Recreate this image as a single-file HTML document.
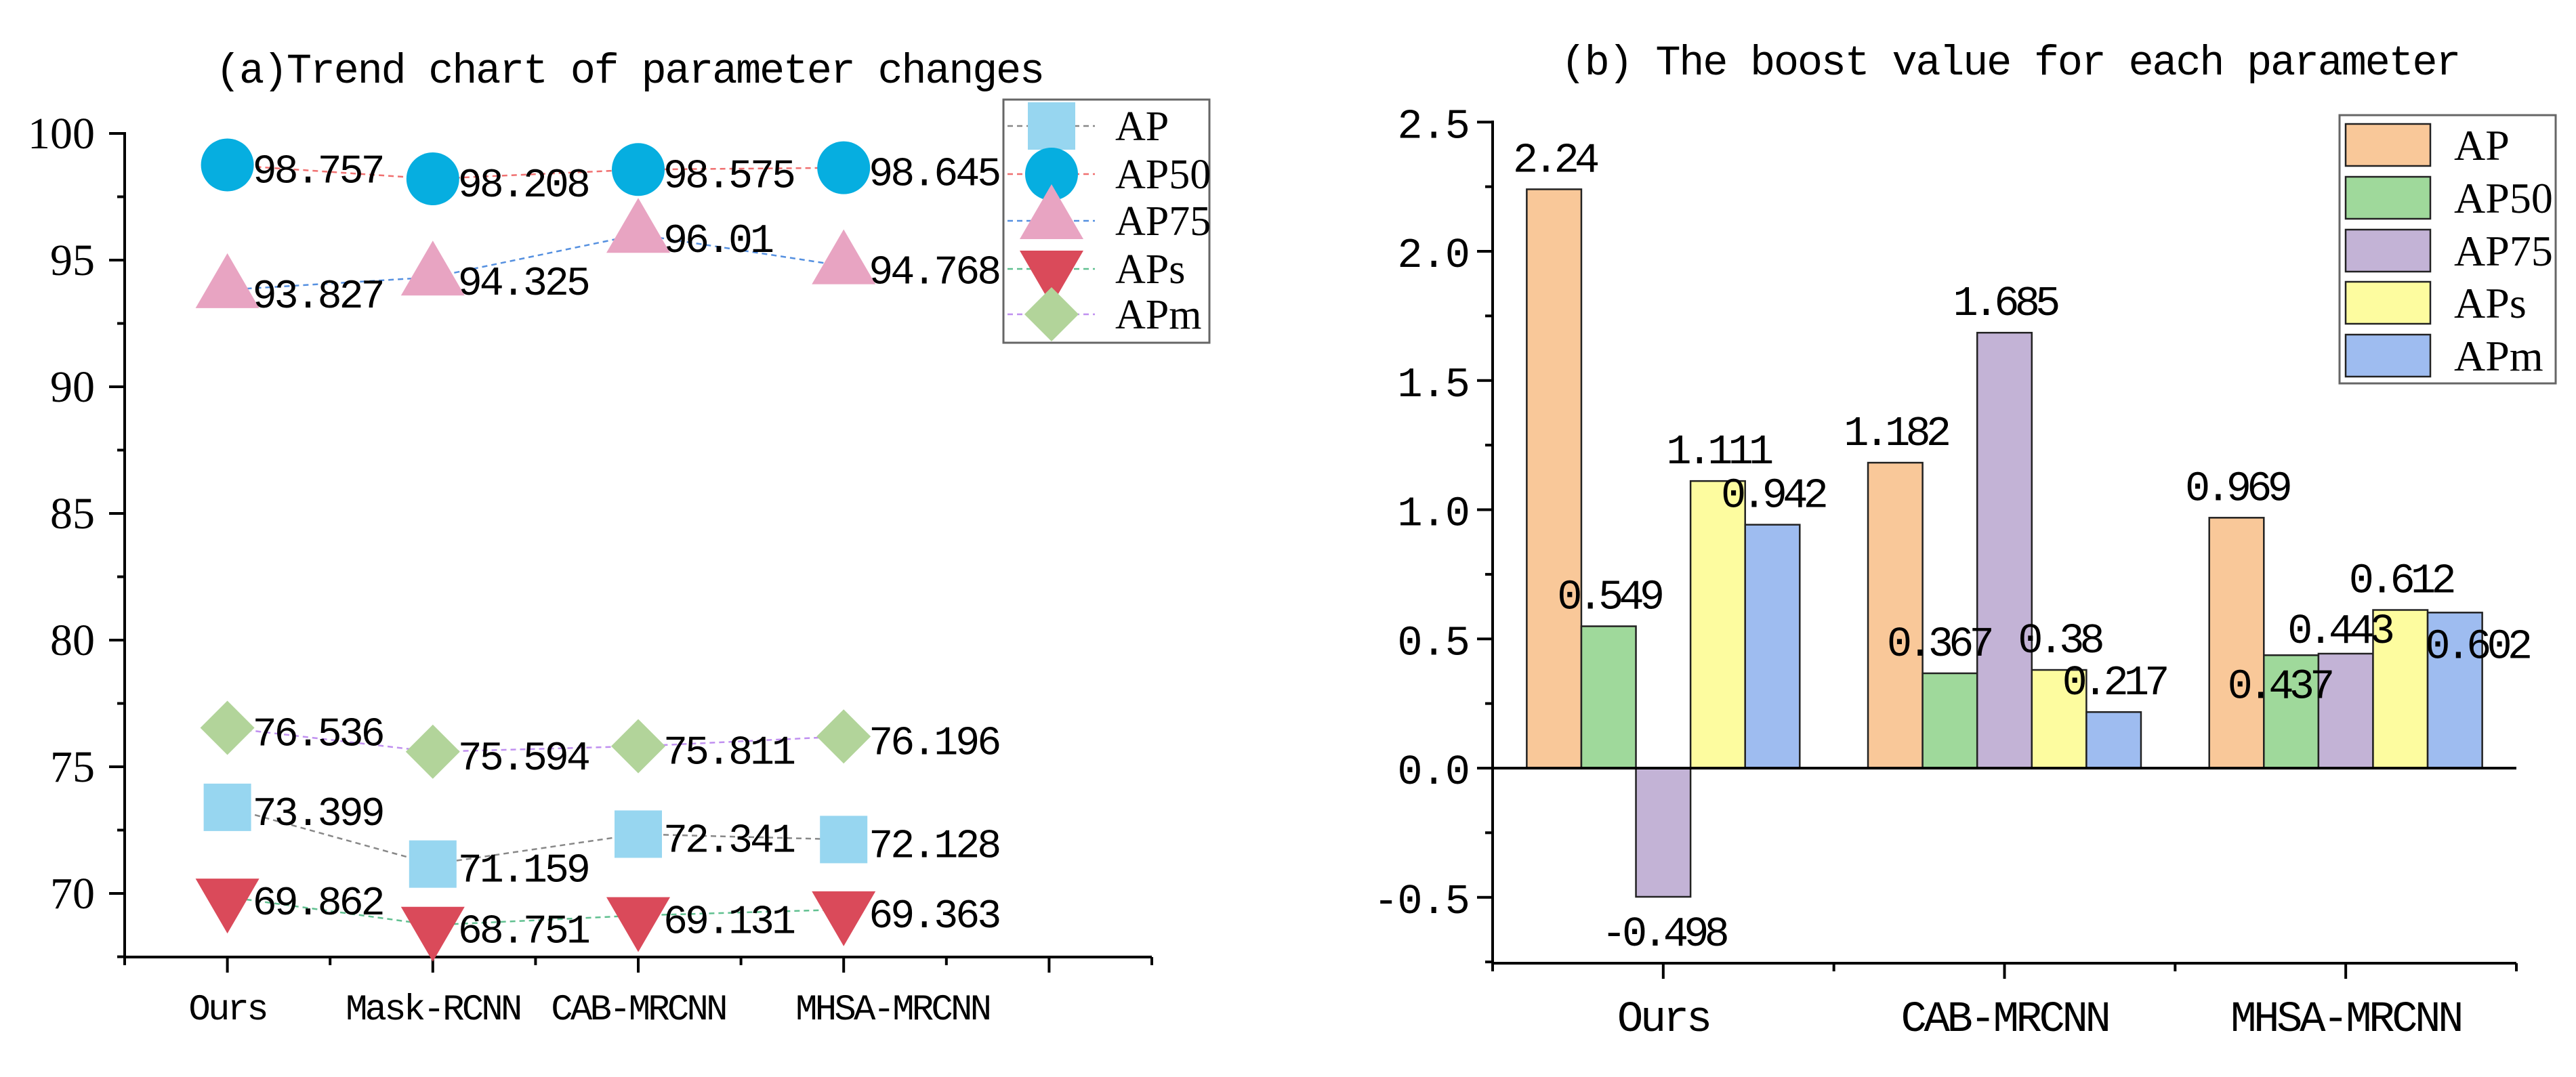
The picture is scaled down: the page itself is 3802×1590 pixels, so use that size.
<!DOCTYPE html>
<html><head><meta charset="utf-8"><style>
html,body{margin:0;padding:0;background:#fff;}
svg{display:block;}
.mono{font-family:"Liberation Mono","Noto Sans CJK SC",monospace;}
.serif{font-family:"Liberation Serif","Noto Serif CJK SC",serif;}
</style></head><body>
<svg id="chart" width="3802" height="1590" viewBox="0 0 3802 1590" xmlns="http://www.w3.org/2000/svg">
<rect width="3802" height="1590" fill="#fff"/>
<g id="left"></g>
<g id="right"></g>
</svg>
<script>
// ---- Left chart data ----
const lineCategories = ["Ours","Mask-RCNN","CAB-MRCNN","MHSA-MRCNN"];
const lineSeriesNames = ["AP","AP50","AP75","APs","APm"];
const apValues   = [73.399, 71.159, 72.341, 72.128];
const ap50Values = [98.757, 98.208, 98.575, 98.645];
const ap75Values = [93.827, 94.325, 96.01, 94.768];
const apsValues  = [69.862, 68.751, 69.131, 69.363];
const apmValues  = [76.536, 75.594, 75.811, 76.196];
const leftYTicks = [70,75,80,85,90,95,100];
// ---- Right chart data ----
const barCategories = ["Ours","CAB-MRCNN","MHSA-MRCNN"];
const barSeriesNames = ["AP","AP50","AP75","APs","APm"];
const barAP   = [2.24, 1.182, 0.969];
const barAP50 = [0.549, 0.367, 0.437];
const barAP75 = [-0.498, 1.685, 0.443];
const barAPs  = [1.111, 0.38, 0.612];
const barAPm  = [0.942, 0.217, 0.602];
const rightYTicks = ["-0.5","0.0","0.5","1.0","1.5","2.0","2.5"];

const NS="http://www.w3.org/2000/svg";
function mk(parent,tag,attrs,text){const e=document.createElementNS(NS,tag);for(const k in attrs)e.setAttribute(k,attrs[k]);if(text!==undefined)e.textContent=text;parent.appendChild(e);return e;}

// ================= LEFT =================
(function(){
const g=document.getElementById('left');
const x0=184, x1=1700, yMin=67.49;
const xs=i=>x0+(i+0.5)*(x1-x0)/5;
const ys=v=>197+(100-v)*37.4;
const yAxis=ys(yMin);
let t=mk(g,'text',{x:929,y:122,'font-size':62,'letter-spacing':-2.3,'text-anchor':'middle',class:'mono'},"(a)Trend chart of parameter changes");


let a=mk(g,'line',{x1:x0,y1:195,x2:x0,y2:yAxis+2,stroke:'#000','stroke-width':4});

a=mk(g,'line',{x1:x0-2,y1:yAxis,x2:x1,y2:yAxis,stroke:'#000','stroke-width':4});

for(let v=67.5;v<=100.01;v+=2.5){
  const major=Math.abs(v%5)<0.01;
  mk(g,'line',{x1:x0-(major?23:11),y1:ys(v),x2:x0,y2:ys(v),stroke:'#000','stroke-width':4});
}
leftYTicks.forEach(v=>{
  const e=mk(g,'text',{x:140,y:ys(v)+22,'font-size':66,'text-anchor':'end',class:'serif'},String(v));
  
});
for(let i=-0.5;i<=4.51;i+=0.5){
  const major=Math.abs(i-Math.round(i))<0.01;
  mk(g,'line',{x1:xs(i),y1:yAxis,x2:xs(i),y2:yAxis+(major?23:12),stroke:'#000','stroke-width':4});
}
lineCategories.forEach((c,i)=>{
  const e=mk(g,'text',{x:xs(i)+(i===3?72:0),y:1505,'font-size':54,'letter-spacing':-3.8,'text-anchor':'middle',class:'mono'},c);
  
});
const series=[apValues,ap50Values,ap75Values,apsValues,apmValues];
const lineCols=['#888','#f07070','#5590e0','#60c090','#c090f0'];
const fillCols=['#97d6f0','#06aee0','#e8a4c2','#da4a5a','#b2d49a'];
function marker(parent,type,cx,cy,col){
  if(type===0) return mk(parent,'rect',{x:cx-35,y:cy-35,width:70,height:70,fill:col});
  if(type===1) return mk(parent,'circle',{cx:cx,cy:cy,r:39,fill:col});
  if(type===2) return mk(parent,'polygon',{points:`${cx},${cy-54} ${cx-47},${cy+27} ${cx+47},${cy+27}`,fill:col});
  if(type===3) return mk(parent,'polygon',{points:`${cx},${cy+54} ${cx-47},${cy-27} ${cx+47},${cy-27}`,fill:col});
  return mk(parent,'polygon',{points:`${cx},${cy-40} ${cx+40},${cy} ${cx},${cy+40} ${cx-40},${cy}`,fill:col});
}
series.forEach((vals,si)=>{
  const sg=mk(g,'g',{});
  
  
  const pts=vals.map((v,i)=>xs(i)+','+ys(v)).join(' ');
  mk(sg,'polyline',{points:pts,fill:'none',stroke:lineCols[si],'stroke-width':2.5,'stroke-dasharray':'8,6'});
  vals.forEach((v,i)=>{
    const m=marker(sg,si,xs(i),ys(v),fillCols[si]);
    
    
  });
  vals.forEach((v,i)=>{
    const e=mk(sg,'text',{x:xs(i)+37,y:ys(v)+26,'font-size':60,'letter-spacing':-4,class:'mono'},String(v));
    
  });
});
const lg=mk(g,'g',{});

mk(lg,'rect',{x:1481,y:147,width:304,height:359,fill:'#fff',stroke:'#666','stroke-width':3});
const ly=[186,257,326,397,464];
lineSeriesNames.forEach((n,si)=>{
  mk(lg,'line',{x1:1487,y1:ly[si],x2:1616,y2:ly[si],stroke:lineCols[si],'stroke-width':2.5,'stroke-dasharray':'8,6'});
  marker(lg,si,1552,ly[si],fillCols[si]);
  const e=mk(lg,'text',{x:1646,y:ly[si]+21,'font-size':62,class:'serif'},n);
  
});
})();

// ================= RIGHT =================
(function(){
const g=document.getElementById('right');
const x0=2203, x1=3714, yMin=-0.755;
const xs=i=>x0+(i+0.5)*(x1-x0)/3;
const unit=(x1-x0)/3;
const ys=v=>1134-v*381.5;
const yAxis=ys(yMin);
let t=mk(g,'text',{x:2967,y:110,'font-size':62,'letter-spacing':-2.3,'text-anchor':'middle',class:'mono'},"(b) The boost value for each parameter");

let a=mk(g,'line',{x1:x0,y1:178,x2:x0,y2:yAxis+2,stroke:'#000','stroke-width':4});

for(let v=-0.75;v<=2.51;v+=0.25){
  const major=Math.abs(v*2-Math.round(v*2))<0.01;
  mk(g,'line',{x1:x0-(major?23:11),y1:ys(v),x2:x0,y2:ys(v),stroke:'#000','stroke-width':4});
}
rightYTicks.forEach(s=>{
  const e=mk(g,'text',{x:2168,y:ys(parseFloat(s))+23,'font-size':62,'letter-spacing':-2,'text-anchor':'end',class:'mono'},s);
  
});
for(let i=-0.5;i<=2.51;i+=0.5){
  const major=Math.abs(i-Math.round(i))<0.01;
  mk(g,'line',{x1:xs(i),y1:yAxis,x2:xs(i),y2:yAxis+(major?23:12),stroke:'#000','stroke-width':4});
}
barCategories.forEach((c,i)=>{
  const e=mk(g,'text',{x:xs(i),y:1522,'font-size':64,'letter-spacing':-4.4,'text-anchor':'middle',class:'mono'},c);
  
});
const series=[barAP,barAP50,barAP75,barAPs,barAPm];
const cols=['#f9c899','#9fd99b','#c3b3d6','#fdfc9f','#9ebcf0'];
const bw=unit*0.16;
const nudge={"1-1":[-17,0],"1-2":[-18,89],"2-2":[-10,10],"4-2":[32,93]};
series.forEach((vals,si)=>{
  const sg=mk(g,'g',{});
  
  
  vals.forEach((v,i)=>{
    const bx=xs(i)-2.5*bw+si*bw;
    const top=Math.min(ys(v),ys(0)), h=Math.abs(ys(v)-ys(0));
    const r=mk(sg,'rect',{x:bx,y:top,width:bw,height:h,fill:cols[si],stroke:'#222','stroke-width':2.5});
    
    
  });
});
a=mk(g,'line',{x1:x0,y1:ys(0),x2:x1,y2:ys(0),stroke:'#000','stroke-width':4});

const labG=mk(g,'g',{});


series.forEach((vals,si)=>{
  vals.forEach((v,i)=>{
    const bx=xs(i)-2.5*bw+si*bw;
    const nd=nudge[si+'-'+i]||[0,0];
    const ly=(v>=0?ys(v)-26:ys(v)+72)+nd[1];
    const e=mk(labG,'text',{x:bx+bw/2+nd[0],y:ly,'font-size':62,'letter-spacing':-6.8,'text-anchor':'middle',class:'mono'},String(v));
    
    
  });
});
a=mk(g,'line',{x1:x0-2,y1:yAxis,x2:x1,y2:yAxis,stroke:'#000','stroke-width':4});

const lg=mk(g,'g',{});

mk(lg,'rect',{x:3453,y:170,width:319,height:396,fill:'#fff',stroke:'#666','stroke-width':3});
const lyy=[214,292,370,447,525];
barSeriesNames.forEach((n,si)=>{
  mk(lg,'rect',{x:3462,y:lyy[si]-31,width:125,height:62,fill:cols[si],stroke:'#222','stroke-width':2.5});
  const e=mk(lg,'text',{x:3622,y:lyy[si]+22,'font-size':64,class:'serif'},n);
  
});
})();
</script>
</body></html>
